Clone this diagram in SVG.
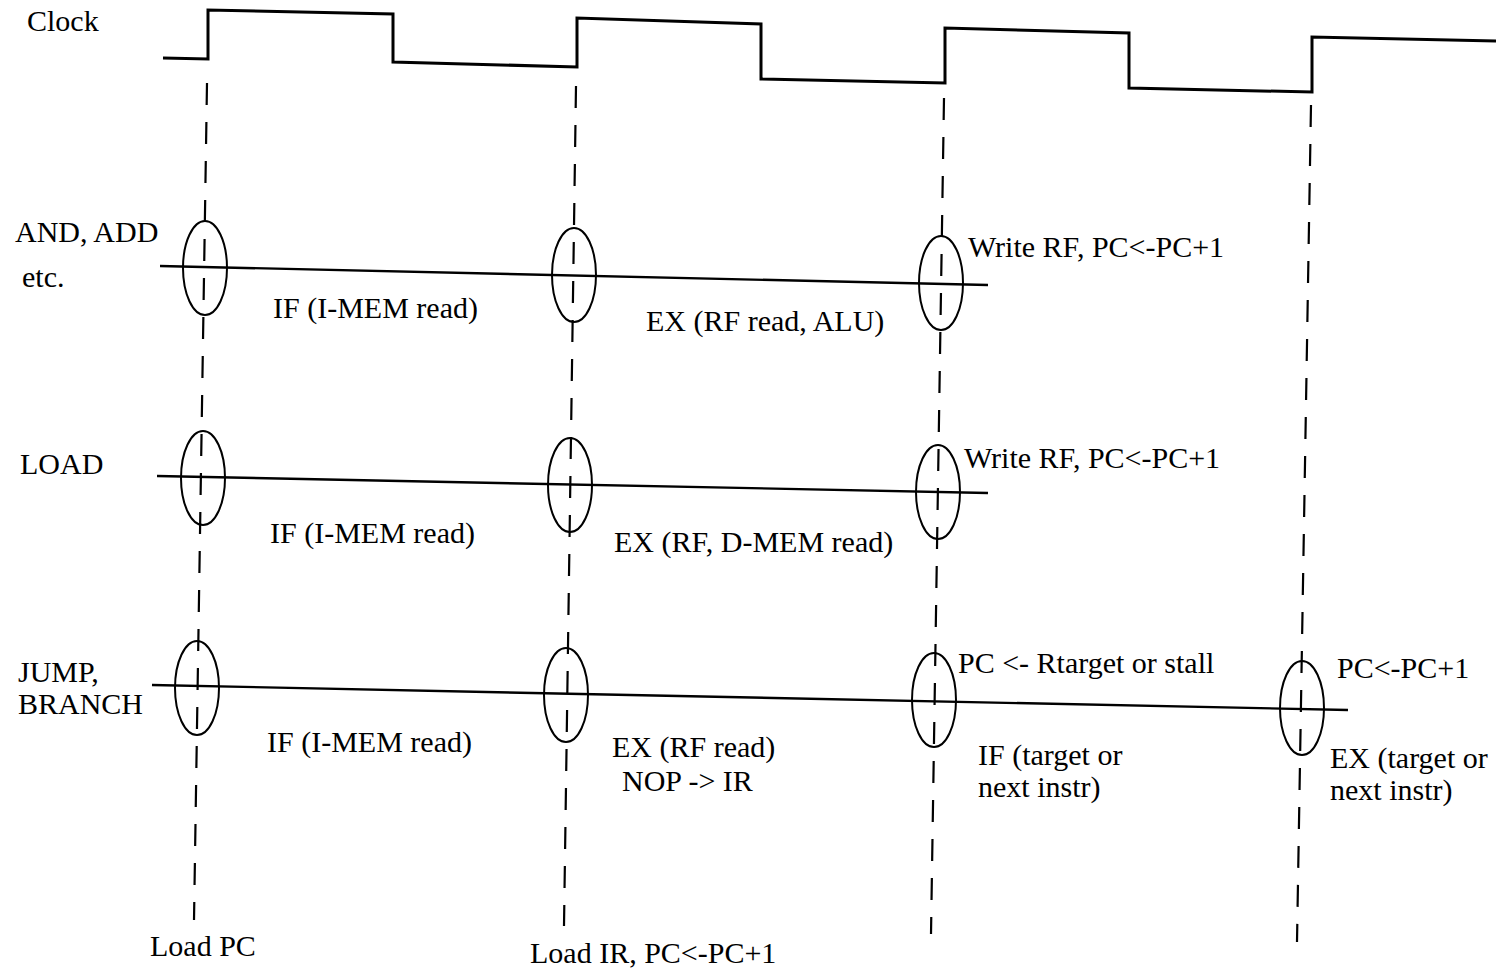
<svg xmlns="http://www.w3.org/2000/svg" width="1496" height="973" viewBox="0 0 1496 973">
<style>
.bg{fill:#fff}
.wave{fill:none;stroke:#000;stroke-width:3;stroke-linejoin:miter}
.dash{stroke:#000;stroke-width:2.2;stroke-dasharray:22 17;fill:none}
.row{stroke:#000;stroke-width:2.4;fill:none}
.ell{stroke:#000;stroke-width:2;fill:none}
text{font-family:"Liberation Serif","Times New Roman",serif;font-size:30px;fill:#000}
</style>
<rect class="bg" x="0" y="0" width="1496" height="973"/>
<g id="clock">
<text x="27" y="31">Clock</text>
<polyline class="wave" points="163,58 208,59 208,10 393,14 393,62 577,67 577,18 761,24 761,79 945,83 945,28 1129,33 1129,88 1312,92 1312,37 1496,41"/>
</g>
<g id="connectors">
<line class="dash" x1="207" y1="83" x2="194" y2="920"/>
<line class="dash" x1="576" y1="86" x2="564" y2="926"/>
<line class="dash" x1="944" y1="98" x2="931" y2="934"/>
<line class="dash" x1="1311" y1="105" x2="1297" y2="942"/>
<line class="row" x1="160" y1="266" x2="988" y2="285"/>
<line class="row" x1="157" y1="476" x2="988" y2="493"/>
<line class="row" x1="152" y1="685" x2="1348" y2="710"/>
</g>
<g id="row-alu">
<text x="15" y="242">AND, ADD</text>
<text x="22" y="287">etc.</text>
<ellipse class="ell" cx="205" cy="268" rx="22" ry="47"/>
<ellipse class="ell" cx="574" cy="275" rx="22" ry="47"/>
<ellipse class="ell" cx="941" cy="283" rx="22" ry="47"/>
<text x="273" y="318">IF (I-MEM read)</text>
<text x="646" y="331">EX (RF read, ALU)</text>
<text x="968" y="257">Write RF, PC&lt;-PC+1</text>
</g>
<g id="row-load">
<text x="20" y="474">LOAD</text>
<ellipse class="ell" cx="203" cy="478" rx="22" ry="47"/>
<ellipse class="ell" cx="570" cy="485" rx="22" ry="47"/>
<ellipse class="ell" cx="938" cy="492" rx="22" ry="47"/>
<text x="270" y="543">IF (I-MEM read)</text>
<text x="614" y="552">EX (RF, D-MEM read)</text>
<text x="964" y="468">Write RF, PC&lt;-PC+1</text>
</g>
<g id="row-jump">
<text x="18" y="682">JUMP,</text>
<text x="18" y="714">BRANCH</text>
<ellipse class="ell" cx="197" cy="688" rx="22" ry="47"/>
<ellipse class="ell" cx="566" cy="695" rx="22" ry="47"/>
<ellipse class="ell" cx="934" cy="700" rx="22" ry="47"/>
<ellipse class="ell" cx="1302" cy="708" rx="22" ry="47"/>
<text x="267" y="752">IF (I-MEM read)</text>
<text x="612" y="757">EX (RF read)</text>
<text x="622" y="791">NOP -&gt; IR</text>
<text x="958" y="673">PC &lt;- Rtarget or stall</text>
<text x="978" y="765">IF (target or</text>
<text x="978" y="797">next instr)</text>
<text x="1337" y="678">PC&lt;-PC+1</text>
<text x="1330" y="768">EX (target or</text>
<text x="1330" y="800">next instr)</text>
</g>
<g id="bottom-labels">
<text x="150" y="956">Load PC</text>
<text x="530" y="963">Load IR, PC&lt;-PC+1</text>
</g>
</svg>
